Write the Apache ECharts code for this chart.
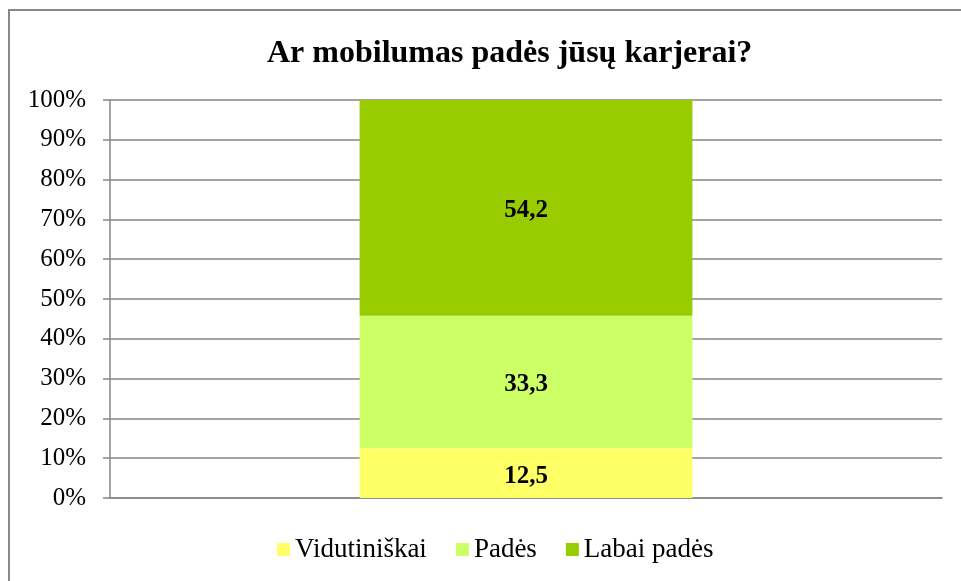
<!DOCTYPE html>
<html>
<head>
<meta charset="utf-8">
<script src="https://cdn.jsdelivr.net/npm/echarts@6/dist/echarts.min.js"></script>
<style>
  html, body { margin: 0; padding: 0; background: #fff; }
  #chart { width: 961px; height: 581px; }
</style>
</head>
<body>
<div id="chart"></div>
<script>
const categories = ['']
const seriesNames = ['Vidutiniškai', 'Padės', 'Labai padės']
const vidutiniskai = [12.5]
const pades = [33.3]
const labaiPades = [54.2]
const colors = ['#FFFF66', '#CCFF66', '#99CC00']

const serif = '"Liberation Serif", "DejaVu Serif", serif'

const chart = echarts.init(document.getElementById('chart'))

const makeSeries = (name, data, color) => ({
  name,
  type: 'bar',
  stack: 'total',
  data,
  barWidth: '40%',
  itemStyle: { color },
  label: {
    show: true,
    position: 'inside',
    offset: [0, 3],
    formatter: (p) => String(p.value).replace('.', ','),
    fontFamily: serif,
    fontSize: 25,
    fontWeight: 'bold',
    color: '#000'
  },
  silent: true
})

chart.setOption({
  animation: false,
  backgroundColor: '#fff',
  graphic: [{
    type: 'rect',
    shape: { x: 9, y: 10, width: 1000, height: 1000 },
    style: { fill: 'none', stroke: '#888', lineWidth: 2 },
    silent: true
  }],
  title: {
    text: 'Ar mobilumas padės jūsų karjerai?',
    left: 262,
    top: 33,
    textStyle: { fontFamily: serif, fontSize: 32, fontWeight: 'bold', color: '#000' }
  },
  legend: {
    bottom: 13,
    left: 272,
    itemWidth: 13,
    itemHeight: 13,
    itemGap: 29,
    icon: 'rect',
    textStyle: { fontFamily: serif, fontSize: 27, color: '#000' },
    data: seriesNames
  },
  grid: { left: 110, right: 19, top: 100, bottom: 83 },
  xAxis: {
    type: 'category',
    data: categories,
    axisLine: { show: true, lineStyle: { color: '#868686', width: 1.5 } },
    axisTick: { show: false },
    axisLabel: { show: false }
  },
  yAxis: {
    type: 'value',
    min: 0,
    max: 100,
    interval: 10,
    axisLine: { show: true, lineStyle: { color: '#868686', width: 1.5 } },
    axisTick: { show: true, length: 7, lineStyle: { color: '#868686', width: 1.5 } },
    axisLabel: {
      formatter: '{value}%',
      margin: 24,
      fontFamily: serif,
      fontSize: 25,
      color: '#000'
    },
    splitLine: { show: true, lineStyle: { color: '#868686', width: 1.5 } }
  },
  series: [
    makeSeries(seriesNames[0], vidutiniskai, colors[0]),
    makeSeries(seriesNames[1], pades, colors[1]),
    makeSeries(seriesNames[2], labaiPades, colors[2])
  ]
})
</script>
</body>
</html>
